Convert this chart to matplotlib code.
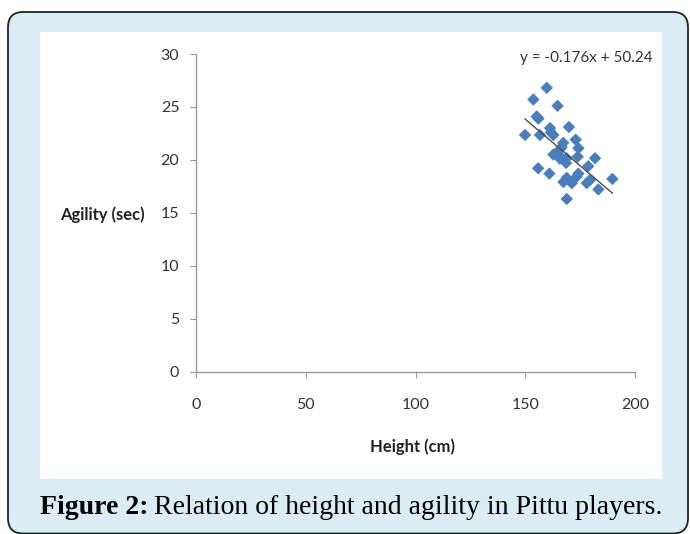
import matplotlib
matplotlib.use("Agg")
import matplotlib.pyplot as plt
from matplotlib.patches import FancyBboxPatch, Rectangle
import numpy as np

# ------------------------
# Data
# ------------------------

height_cm = [159.8, 153.7, 164.7, 155.2, 156.0, 149.9, 156.7, 161.3, 162.8,
             161.7, 169.9, 173.0, 167.3, 166.6, 174.2, 162.8, 165.1, 168.9,
             173.9, 181.8, 178.7, 168.6, 155.9, 161.0, 174.2, 173.4, 168.9,
             167.4, 171.2, 178.0, 179.5, 183.3, 189.7, 168.9, 165.8, 165.8]
agility_sec = [26.8, 25.7, 25.1, 24.1, 23.9, 22.35, 22.35, 23.0, 22.35,
               22.6, 23.1, 21.9, 21.6, 21.2, 21.1, 20.5, 20.5, 20.15,
               20.3, 20.15, 19.4, 19.7, 19.2, 18.7, 18.7, 18.4, 18.3,
               17.9, 17.8, 17.8, 18.1, 17.2, 18.2, 16.3, 21.0, 20.1]

slope = -0.176
intercept = 50.24

x_ticks = [0, 50, 100, 150, 200]
y_ticks = [0, 5, 10, 15, 20, 25, 30]

# ------------------------
# Figure / frame
# ------------------------

fig = plt.figure(figsize=(6.9, 5.34), dpi=100)
W, H = 690, 534

# light blue rounded panel
panel = FancyBboxPatch((8 / W, 0.5 / H), 680 / W, (H - 12.5) / H,
                       boxstyle="round,pad=0,rounding_size=0.022",
                       transform=fig.transFigure, facecolor="#d9edf2",
                       edgecolor="#222222", linewidth=1.3, mutation_aspect=W / H,
                       zorder=0)
fig.patches.append(panel)

# white chart area
fig.patches.append(Rectangle((40 / W, 1 - 479 / H), 622 / W, 447 / H,
                             transform=fig.transFigure, facecolor="white",
                             edgecolor="none", zorder=0))

# caption: bold label followed by regular text
cap_y = 1 - 508 / H
t_bold = fig.text(40 / W, cap_y, "Figure 2:", fontsize=20, fontweight="bold",
                  family="Liberation Serif", va="center", ha="left")
fig.canvas.draw()
bb = t_bold.get_window_extent()
fig.text((bb.x1 + 6) / W, cap_y, "Relation of height and agility in Pittu players.",
         fontsize=20, family="Liberation Serif", va="center", ha="left")

# ------------------------
# Scatter chart
# ------------------------

ax = fig.add_axes([196 / W, 1 - 371.5 / H, 439 / W, 317.5 / H])
ax.set_zorder(2)
ax.patch.set_alpha(0)

ax.scatter(height_cm, agility_sec, marker="D", s=40, color="#4a7ebb",
           edgecolors="none", zorder=3)

xs = np.array([min(height_cm), max(height_cm)])
ax.plot(xs, slope * xs + intercept, color="#4d4d4d", linewidth=1.0, zorder=4)

ax.set_xlim(0, 200)
ax.set_ylim(0, 30)
ax.set_xticks(x_ticks)
ax.set_yticks(y_ticks)

for side in ["top", "right"]:
    ax.spines[side].set_visible(False)
for side in ["left", "bottom"]:
    ax.spines[side].set_color("#999999")
    ax.spines[side].set_linewidth(1.0)

ax.tick_params(direction="out", length=4, color="#999999", labelsize=11.5,
               labelcolor="#333333")
ax.tick_params(axis="x", pad=15)
ax.tick_params(axis="y", pad=8)
for lbl in ax.get_xticklabels() + ax.get_yticklabels():
    lbl.set_family("Lato")

ax.text(-0.116, 0.493, "Agility (sec)", transform=ax.transAxes, ha="right",
        va="center", fontsize=12, fontweight="bold", family="Lato", color="#222222")
ax.text(0.494, -0.238, "Height (cm)", transform=ax.transAxes, ha="center",
        va="center", fontsize=12, fontweight="bold", family="Lato", color="#222222")

ax.text(147.6, 29.6, f"y = {slope}x + {intercept}", ha="left", va="center",
        fontsize=11, family="Lato", color="#333333")

fig.savefig("out.png", dpi=100)
